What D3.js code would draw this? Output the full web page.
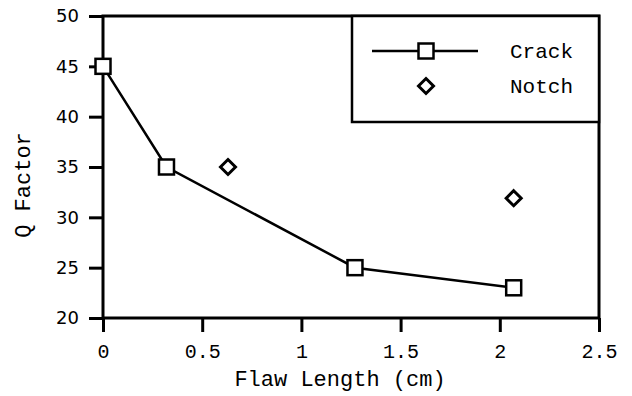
<!DOCTYPE html>
<html>
<head>
<meta charset="utf-8">
<script src="https://cdn.jsdelivr.net/npm/d3@7"></script>
<style>
  body { margin: 0; background: #fff; }
  svg { display: block; }
</style>
</head>
<body>
<svg id="chart"></svg>
<script>
// data
var crackX = [0, 0.32, 1.27, 2.07];
var crackQ = [45, 35, 25, 23];
var notchX = [0.63, 2.07];
var notchQ = [35, 31.9];
var xTicks = [0, 0.5, 1, 1.5, 2, 2.5];
var yTicks = [20, 25, 30, 35, 40, 45, 50];
var seriesNames = ["Crack", "Notch"];

var width = 632,
  height = 396;
var margin = { top: 16, right: 33, bottom: 78, left: 103 };
var mono = "'Liberation Mono', 'Courier New', monospace";

var svg = d3.select("#chart").attr("width", width).attr("height", height);

var x = d3.scaleLinear().domain([0, 2.5]).range([margin.left, width - margin.right]);
var y = d3.scaleLinear().domain([20, 50]).range([height - margin.bottom, margin.top]);

// x axis
var xAxis = svg
  .append("g")
  .attr("transform", "translate(0," + y(20) + ")")
  .call(d3.axisBottom(x).tickValues(xTicks).tickSize(14).tickPadding(12).tickFormat(d3.format("")));
xAxis.selectAll("text").style("font-family", mono).style("font-size", "20px").attr("fill", "#000");

// y axis
var yAxis = svg
  .append("g")
  .attr("transform", "translate(" + x(0) + ",0)")
  .call(d3.axisLeft(y).tickValues(yTicks).tickSize(14).tickPadding(10));
yAxis.selectAll("text").style("font-family", "'DejaVu Sans', Verdana, sans-serif").style("font-size", "18px").attr("fill", "#000");

svg.selectAll(".domain").remove();
svg.selectAll(".tick line").attr("stroke", "#000").attr("stroke-width", 3);

// frame
svg
  .append("rect")
  .attr("x", x(0))
  .attr("y", y(50))
  .attr("width", x(2.5) - x(0))
  .attr("height", y(20) - y(50))
  .attr("fill", "none")
  .attr("stroke", "#000")
  .attr("stroke-width", 3);

// axis titles
svg
  .append("text")
  .attr("x", 340)
  .attr("y", 386)
  .attr("text-anchor", "middle")
  .style("font-family", mono)
  .style("font-size", "22px")
  .text("Flaw Length (cm)");

svg
  .append("text")
  .attr("transform", "translate(30,185) rotate(-90)")
  .attr("text-anchor", "middle")
  .style("font-family", mono)
  .style("font-size", "22px")
  .text("Q Factor");

// crack line
var crack = crackX.map(function (d, i) {
  return { x: d, q: crackQ[i] };
});
var line = d3
  .line()
  .x(function (d) { return x(d.x); })
  .y(function (d) { return y(d.q); });

svg
  .append("path")
  .datum(crack)
  .attr("d", line)
  .attr("fill", "none")
  .attr("stroke", "#000")
  .attr("stroke-width", 2.5);

var sq = 15;
svg
  .selectAll(".crack")
  .data(crack)
  .enter()
  .append("rect")
  .attr("x", function (d) { return x(d.x) - sq / 2; })
  .attr("y", function (d) { return y(d.q) - sq / 2; })
  .attr("width", sq)
  .attr("height", sq)
  .attr("fill", "#fff")
  .attr("stroke", "#000")
  .attr("stroke-width", 2.5);

// notch diamonds
var diamond = "M0,-7.5L7.5,0L0,7.5L-7.5,0Z";
svg
  .selectAll(".notch")
  .data(notchX)
  .enter()
  .append("path")
  .attr("d", diamond)
  .attr("transform", function (d, i) {
    return "translate(" + x(d) + "," + y(notchQ[i]) + ")";
  })
  .attr("fill", "#fff")
  .attr("stroke", "#000")
  .attr("stroke-width", 3);

// legend
var legend = svg.append("g");
legend
  .append("rect")
  .attr("x", 352)
  .attr("y", y(50))
  .attr("width", x(2.5) - 352)
  .attr("height", 106)
  .attr("fill", "#fff")
  .attr("stroke", "#000")
  .attr("stroke-width", 2.5);

legend
  .append("line")
  .attr("x1", 372)
  .attr("x2", 478)
  .attr("y1", 51)
  .attr("y2", 51)
  .attr("stroke", "#000")
  .attr("stroke-width", 2.5);
legend
  .append("rect")
  .attr("x", 426 - sq / 2)
  .attr("y", 51 - sq / 2)
  .attr("width", sq)
  .attr("height", sq)
  .attr("fill", "#fff")
  .attr("stroke", "#000")
  .attr("stroke-width", 2.5);
legend
  .append("path")
  .attr("d", diamond)
  .attr("transform", "translate(426,86)")
  .attr("fill", "#fff")
  .attr("stroke", "#000")
  .attr("stroke-width", 3);

legend
  .selectAll(".lab")
  .data(seriesNames)
  .enter()
  .append("text")
  .attr("x", 510)
  .attr("y", function (d, i) { return 58 + i * 35; })
  .style("font-family", mono)
  .style("font-size", "21px")
  .text(function (d) { return d; });
</script>
</body>
</html>
